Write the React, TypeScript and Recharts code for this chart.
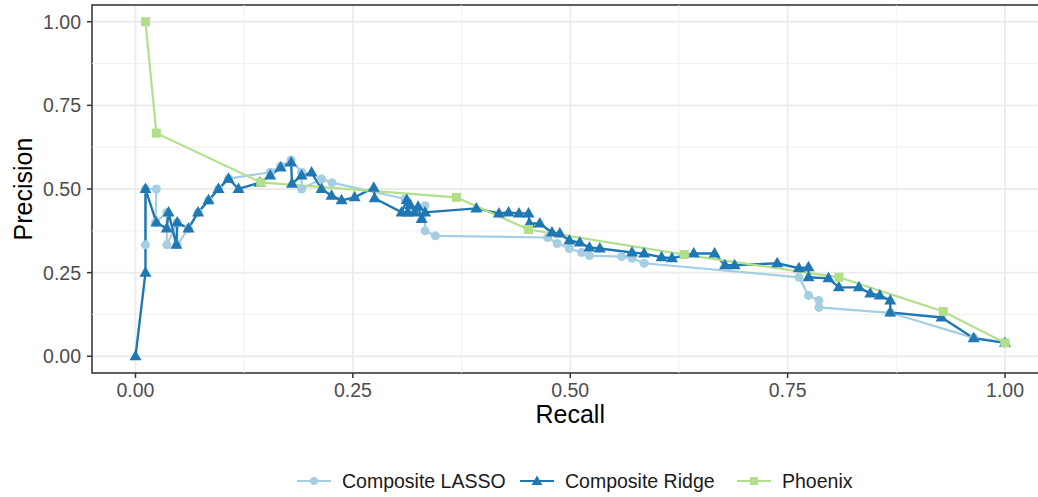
import React from "react";
import {
  LineChart,
  Line,
  XAxis,
  YAxis,
  CartesianGrid,
  ReferenceLine,
  ReferenceArea,
  Legend,
} from "recharts";

// Precision-recall curves for the three models
const lassoRecall = [
  0.0115, 0.0115, 0.024, 0.023, 0.036, 0.036, 0.048, 0.048, 0.061, 0.072,
  0.084, 0.0955, 0.107, 0.155, 0.167, 0.179, 0.191, 0.191, 0.214, 0.226,
  0.31, 0.315, 0.333, 0.333, 0.345, 0.474, 0.485, 0.499, 0.513, 0.522,
  0.559, 0.571, 0.585, 0.763, 0.774, 0.786, 0.786, 0.868, 0.964, 1.0,
];
const lassoPrecision = [
  0.333, 0.5, 0.5, 0.4, 0.43, 0.333, 0.4, 0.333, 0.382, 0.43,
  0.466, 0.5, 0.531, 0.55, 0.569, 0.587, 0.55, 0.5, 0.53, 0.519,
  0.47, 0.43, 0.45, 0.375, 0.36, 0.355, 0.337, 0.322, 0.31, 0.301,
  0.298, 0.293, 0.278, 0.236, 0.182, 0.167, 0.146, 0.13, 0.055, 0.04,
];

const ridgeRecall = [
  0, 0.0115, 0.0115, 0.024, 0.036, 0.038, 0.047, 0.048, 0.061, 0.072,
  0.084, 0.0955, 0.107, 0.1185, 0.143, 0.155, 0.167, 0.179, 0.18, 0.191,
  0.2025, 0.214, 0.2255, 0.237, 0.252, 0.274, 0.275, 0.306, 0.312, 0.313,
  0.316, 0.321, 0.325, 0.329, 0.333, 0.392, 0.418, 0.429, 0.441, 0.452,
  0.453, 0.465, 0.479, 0.488, 0.499, 0.511, 0.522, 0.534, 0.571, 0.585,
  0.605, 0.617, 0.642, 0.666, 0.678, 0.689, 0.738, 0.763, 0.774, 0.774,
  0.797, 0.809, 0.832, 0.845, 0.856, 0.868, 0.868, 0.927, 0.964, 1.0,
];
const ridgePrecision = [
  0, 0.25, 0.5, 0.4, 0.382, 0.43, 0.333, 0.4, 0.382, 0.43,
  0.466, 0.5, 0.531, 0.5, 0.519, 0.54, 0.564, 0.579, 0.516, 0.54,
  0.549, 0.5, 0.48, 0.466, 0.475, 0.504, 0.472, 0.43, 0.467, 0.43,
  0.452, 0.43, 0.447, 0.41, 0.43, 0.442, 0.427, 0.43, 0.427, 0.427,
  0.397, 0.397, 0.37, 0.367, 0.346, 0.34, 0.325, 0.322, 0.31, 0.307,
  0.296, 0.293, 0.307, 0.307, 0.272, 0.272, 0.278, 0.263, 0.266, 0.236,
  0.233, 0.206, 0.206, 0.188, 0.182, 0.167, 0.131, 0.116, 0.054, 0.04,
];

const phoenixRecall = [0.0115, 0.024, 0.144, 0.369, 0.452, 0.631, 0.809, 0.929, 1.0];
const phoenixPrecision = [1.0, 0.667, 0.52, 0.475, 0.379, 0.304, 0.236, 0.134, 0.04];

const majorTicks = [0, 0.25, 0.5, 0.75, 1];
const minorTicks = [0.125, 0.375, 0.625, 0.875];

const toPoints = (recall: number[], precision: number[]) =>
  recall.map((r, i) => ({ recall: r, precision: precision[i] }));

const lassoData = toPoints(lassoRecall, lassoPrecision);
const ridgeData = toPoints(ridgeRecall, ridgePrecision);
const phoenixData = toPoints(phoenixRecall, phoenixPrecision);

const LASSO_COLOR = "#A6CEE3";
const RIDGE_COLOR = "#1F78B4";
const PHOENIX_COLOR = "#B2DF8A";

const FONT = "'Liberation Sans', Arial, Helvetica, sans-serif";

const TriangleDot = (props: any) => {
  const { cx, cy, index } = props;
  if (cx == null || cy == null) return null;
  return (
    <path
      key={`tri-${index}`}
      d={`M${cx},${cy - 6.5} L${cx + 6},${cy + 4} L${cx - 6},${cy + 4} Z`}
      fill={RIDGE_COLOR}
    />
  );
};

const SquareDot = (props: any) => {
  const { cx, cy, index } = props;
  if (cx == null || cy == null) return null;
  return (
    <rect
      key={`sq-${index}`}
      x={cx - 4.5}
      y={cy - 4.5}
      width={9}
      height={9}
      fill={PHOENIX_COLOR}
    />
  );
};

// legend entries, each with the width of its slot
const legendItems = [
  { name: "Composite LASSO", color: LASSO_COLOR, shape: "circle", width: 223 },
  { name: "Composite Ridge", color: RIDGE_COLOR, shape: "triangle", width: 217 },
  { name: "Phoenix", color: PHOENIX_COLOR, shape: "square", width: 130 },
];

const LegendKey = ({ color, shape }: { color: string; shape: string }) => (
  <svg width={34} height={14}>
    <line x1={0} y1={7} x2={34} y2={7} stroke={color} strokeWidth={2.2} />
    {shape === "circle" && <circle cx={17} cy={7} r={4} fill={color} />}
    {shape === "triangle" && <path d="M17,1.5 L22.5,11 L11.5,11 Z" fill={color} />}
    {shape === "square" && <rect x={13} y={3} width={8} height={8} fill={color} />}
  </svg>
);

const CustomLegend = () => (
  <div
    style={{
      display: "flex",
      alignItems: "center",
      height: 32,
      paddingLeft: 297,
      fontFamily: FONT,
      fontSize: 19.5,
      color: "#1a1a1a",
    }}
  >
    {legendItems.map((item) => (
      <div
        key={item.name}
        style={{ display: "flex", alignItems: "center", width: item.width, flex: "none" }}
      >
        <LegendKey color={item.color} shape={item.shape} />
        <span style={{ marginLeft: 11, whiteSpace: "nowrap" }}>{item.name}</span>
      </div>
    ))}
  </div>
);

const tickStyle = { fontFamily: FONT, fontSize: 19.5, fill: "#4D4D4D" };

export default function App() {
  return (
    <div
      style={{
        position: "absolute",
        left: 0,
        top: 0,
        width: 1038,
        height: 497,
        overflow: "hidden",
        background: "#fff",
      }}
    >
      <LineChart
        width={1060}
        height={497}
        margin={{ top: 5, right: 11.5, bottom: 0, left: 0 }}
      >
        <CartesianGrid stroke="#EBEBEB" strokeWidth={1.8} />
        {minorTicks.map((t) => (
          <ReferenceLine key={`vx-${t}`} x={t} stroke="#EEEEEE" strokeWidth={0.9} />
        ))}
        {minorTicks.map((t) => (
          <ReferenceLine key={`hy-${t}`} y={t} stroke="#EEEEEE" strokeWidth={0.9} />
        ))}
        <XAxis
          type="number"
          dataKey="recall"
          domain={[-0.05, 1.05]}
          ticks={majorTicks}
          tickFormatter={(v: number) => v.toFixed(2)}
          tick={tickStyle}
          tickSize={5}
          tickMargin={5}
          axisLine={false}
          tickLine={{ stroke: "#333333", strokeWidth: 1.5 }}
          height={92}
          allowDataOverflow
          label={{
            content: ({ viewBox }: any) => (
              <text
                x={viewBox.x + viewBox.width / 2}
                y={viewBox.y + 50}
                textAnchor="middle"
                fontFamily={FONT}
                fontSize={25}
                fill="#000"
              >
                Recall
              </text>
            ),
          }}
        />
        <YAxis
          type="number"
          dataKey="precision"
          domain={[-0.05, 1.05]}
          ticks={majorTicks}
          tickFormatter={(v: number) => v.toFixed(2)}
          tick={tickStyle}
          tickSize={5}
          tickMargin={6}
          axisLine={false}
          tickLine={{ stroke: "#333333", strokeWidth: 1.5 }}
          width={92}
          allowDataOverflow
          label={{
            content: ({ viewBox }: any) => {
              const cy = viewBox.y + viewBox.height / 2;
              return (
                <text
                  x={32}
                  y={cy}
                  transform={`rotate(-90, 32, ${cy})`}
                  textAnchor="middle"
                  fontFamily={FONT}
                  fontSize={25}
                  fill="#000"
                >
                  Precision
                </text>
              );
            },
          }}
        />
        <ReferenceArea
          x1={-0.05}
          x2={1.05}
          y1={-0.05}
          y2={1.05}
          fill="none"
          stroke="#333333"
          strokeWidth={1.5}
          ifOverflow="visible"
        />
        <Line
          data={lassoData}
          dataKey="precision"
          name="Composite LASSO"
          stroke={LASSO_COLOR}
          strokeWidth={2.2}
          dot={{ r: 4.5, fill: LASSO_COLOR, stroke: "none" }}
          isAnimationActive={false}
        />
        <Line
          data={ridgeData}
          dataKey="precision"
          name="Composite Ridge"
          stroke={RIDGE_COLOR}
          strokeWidth={2.4}
          dot={TriangleDot}
          isAnimationActive={false}
        />
        <Line
          data={phoenixData}
          dataKey="precision"
          name="Phoenix"
          stroke={PHOENIX_COLOR}
          strokeWidth={2.2}
          dot={SquareDot}
          isAnimationActive={false}
        />
        <Legend
          verticalAlign="bottom"
          height={32}
          content={<CustomLegend />}
          wrapperStyle={{ left: 0, width: 1038 }}
        />
      </LineChart>
    </div>
  );
}
